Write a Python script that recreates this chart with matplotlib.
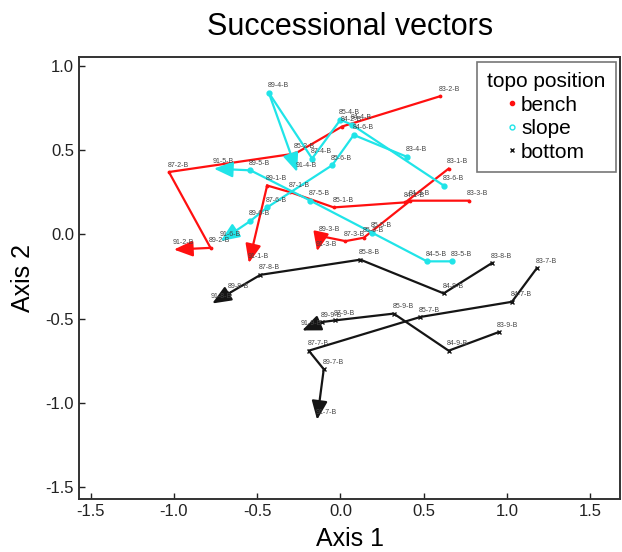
import matplotlib
matplotlib.use("Agg")
import matplotlib.pyplot as plt
from matplotlib.lines import Line2D

plt.rcParams["font.family"] = ["Liberation Sans", "DejaVu Sans"]

# ── Trayectorias por posición topográfica (scores de ordenación) ──
bench_labels = [
    ["83-1-B", "84-1-B", "85-1-B", "87-1-B", "89-1-B", "91-1-B"],
    ["83-2-B", "84-2-B", "85-2-B", "87-2-B", "89-2-B", "91-2-B"],
    ["83-3-B", "84-3-B", "85-3-B", "87-3-B", "89-3-B", "91-3-B"],
]
bench_x = [
    [0.65, 0.39, -0.04, -0.30, -0.44, -0.55],
    [0.60, 0.01, -0.27, -1.03, -0.78, -1.00],
    [0.77, 0.42, 0.14, 0.03, -0.12, -0.14],
]
bench_y = [
    [0.39, 0.19, 0.16, 0.25, 0.29, -0.17],
    [0.82, 0.64, 0.48, 0.37, -0.08, -0.09],
    [0.20, 0.20, -0.02, -0.04, -0.01, -0.10],
]

slope_labels = [
    ["83-6-B", "84-4-B", "85-4-B", "87-4-B", "89-4-B", "91-4-B"],
    ["83-4-B", "84-6-B", "85-6-B", "87-6-B", "89-6-B", "91-6-B"],
    ["83-5-B", "84-5-B", "85-5-B", "87-5-B", "89-5-B", "91-5-B"],
]
slope_x = [
    [0.62, 0.07, 0.00, -0.17, -0.43, -0.26],
    [0.40, 0.08, -0.05, -0.44, -0.54, -0.72],
    [0.67, 0.52, 0.19, -0.18, -0.54, -0.76],
]
slope_y = [
    [0.29, 0.65, 0.68, 0.45, 0.84, 0.37],
    [0.46, 0.59, 0.41, 0.16, 0.08, -0.04],
    [-0.16, -0.16, 0.01, 0.20, 0.38, 0.39],
]

bottom_labels = [
    ["83-7-B", "84-7-B", "85-7-B", "87-7-B", "89-7-B", "91-7-B"],
    ["83-8-B", "84-8-B", "85-8-B", "87-8-B", "89-8-B", "91-8-B"],
    ["83-9-B", "84-9-B", "85-9-B", "87-9-B", "89-9-B", "91-9-B"],
]
bottom_x = [
    [1.18, 1.03, 0.48, -0.19, -0.10, -0.14],
    [0.91, 0.62, 0.12, -0.48, -0.67, -0.77],
    [0.95, 0.65, 0.32, -0.03, -0.11, -0.23],
]
bottom_y = [
    [-0.20, -0.40, -0.49, -0.69, -0.80, -1.10],
    [-0.17, -0.35, -0.15, -0.24, -0.35, -0.41],
    [-0.58, -0.69, -0.47, -0.51, -0.52, -0.57],
]

groups = [
    ("bench", bench_x, bench_y, bench_labels, "#ff1010", "."),
    ("slope", slope_x, slope_y, slope_labels, "#20e4e8", "o"),
    ("bottom", bottom_x, bottom_y, bottom_labels, "#151515", "x"),
]

fig = plt.figure(figsize=(6.22, 5.52), dpi=100)
ax = fig.add_axes([0.127, 0.096, 0.870, 0.800])

for name, xs, ys, labs, color, mk in groups:
    for x, y, lab in zip(xs, ys, labs):
        # segmentos del vector sucesional
        ax.plot(x[:-1], y[:-1], color=color, lw=1.6, marker=mk,
                ms=3.5 if mk != "x" else 2.5, mew=1, zorder=2)
        # último tramo con flecha
        ax.annotate("", xy=(x[-1], y[-1]), xytext=(x[-2], y[-2]),
                    arrowprops=dict(arrowstyle="-|>,head_length=0.6,head_width=0.25",
                                    color=color, lw=1.6, mutation_scale=19,
                                    shrinkA=0, shrinkB=0), zorder=3)
        for xi, yi, t in zip(x, y, lab):
            ax.annotate(t, (xi, yi), xytext=(-1, 2.5), textcoords="offset points",
                        fontsize=5, color="#444444", ha="left", va="bottom", zorder=4)

ax.set_xlim(-1.57, 1.68)
ax.set_ylim(-1.57, 1.05)
ax.set_xticks([-1.5, -1.0, -0.5, 0.0, 0.5, 1.0, 1.5])
ax.set_yticks([-1.5, -1.0, -0.5, 0.0, 0.5, 1.0])
ax.xaxis.set_major_formatter(matplotlib.ticker.FormatStrFormatter("%.1f"))
ax.yaxis.set_major_formatter(matplotlib.ticker.FormatStrFormatter("%.1f"))
ax.tick_params(direction="in", length=4, width=1, labelsize=12, colors="#222222")
for s in ax.spines.values():
    s.set_linewidth(1.4)
    s.set_color("#333333")

ax.set_title("Successional vectors", fontsize=22, pad=16)
ax.set_xlabel("Axis 1", fontsize=18, labelpad=6)
ax.set_ylabel("Axis 2", fontsize=18, labelpad=8)

handles = [
    Line2D([], [], ls="none", marker="o", ms=3, color="#ff1010"),
    Line2D([], [], ls="none", marker="o", ms=3.5, mfc="white", mec="#20e4e8", mew=1),
    Line2D([], [], ls="none", marker="x", ms=3, mew=1, color="#151515"),
]
leg = ax.legend(handles, ["bench", "slope", "bottom"], title="topo position",
                loc="upper right", fontsize=15, title_fontsize=15,
                frameon=True, fancybox=False, edgecolor="#555555",
                handlelength=0.4, handletextpad=0.25, labelspacing=0.22,
                borderaxespad=0.2, borderpad=0.5)
leg.get_frame().set_linewidth(1.2)

plt.savefig("out.png", dpi=100)
